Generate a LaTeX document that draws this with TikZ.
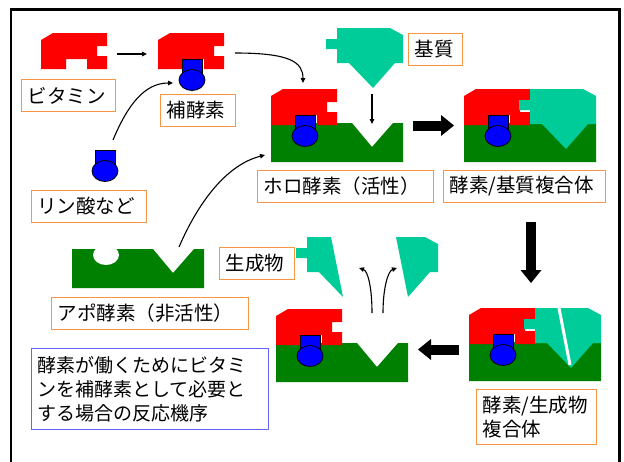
\documentclass[tikz,border=0pt]{standalone}
\usepackage{fontspec}
\setmainfont{Noto Sans CJK JP}
\usetikzlibrary{arrows.meta}

\definecolor{enzred}{RGB}{255,0,0}
\definecolor{enzgreen}{RGB}{0,128,0}
\definecolor{cofblue}{RGB}{0,0,255}
\definecolor{subteal}{RGB}{0,204,153}
\definecolor{lblorange}{RGB}{248,150,70}
\definecolor{noteblue}{RGB}{100,100,255}

\newcommand{\vitpart}{\fill[enzred] (0,7)--(12,0)--(66,0)--(66,13)--(56,13)--(56,23)--(66,23)--(66,36)--(46,36)--(46,26)--(25,26)--(25,36)--(0,36)--cycle;}
\newcommand{\greenpart}{\fill[enzgreen] (0,34)--(81,34)--(101,58)--(122,34)--(132,34)--(132,73)--(0,73)--cycle;}
\newcommand{\cofac}{\filldraw[fill=cofblue,line width=.8pt] (24,26) rectangle (44,46);
  \filldraw[fill=cofblue,line width=.8pt] (34,47) ellipse [x radius=13pt,y radius=10.5pt];}
\newcommand{\subshape}{\fill[subteal] (0,0)--(53,0)--(66,7)--(66,35)--(58,35)--(36,60)--(12,35)--(0,35)--(0,21)--(-11,21)--(-11,11)--(0,11)--cycle;}
\newcommand{\prodleft}{\fill[subteal] (-11,11)--(0,11)--(0,0)--(24,0)--(36,60)--(12,35)--(0,35)--(0,21)--(-11,21)--cycle;}
\newcommand{\prodright}{\fill[subteal] (24,0)--(53,0)--(66,7)--(66,35)--(58,35)--(36,60)--cycle;}

\tikzset{
  lbl/.style={draw=lblorange, line width=1pt, anchor=north west, inner xsep=6pt, inner ysep=2pt,
    minimum height=32pt, align=left, font=\fontsize{19.5}{24}\selectfont},
  note/.style={draw=noteblue, line width=1pt, anchor=north west, inner xsep=6pt, inner ysep=2pt,
    text width=225pt, minimum height=81pt, align=left, font=\fontsize{19}{24}\selectfont},
  thinarr/.style={line width=1.1pt, -{Triangle[length=5pt,width=4.5pt]}},
  bigarr/.style={line width=10pt, -{Triangle[length=13pt,width=21pt,line width=0pt]}}
}

\begin{document}
\begin{tikzpicture}[x=1pt,y=-1pt]
\useasboundingbox (0,0) rectangle (624,461);
\clip (0,0) rectangle (624,461);
\draw[line width=2.5pt] (11,9.5) rectangle (619.5,480);

\begin{scope}[shift={(41,33)}] \vitpart \end{scope}
\begin{scope}[shift={(158,33)}] \vitpart \cofac \end{scope}
\begin{scope}[shift={(71,124)}] \cofac \end{scope}
\begin{scope}[shift={(337,28)}] \subshape \end{scope}

\begin{scope}[shift={(271,89)}] \greenpart \vitpart \cofac \end{scope}
\begin{scope}[shift={(464,89)}]
  \greenpart \vitpart
  \begin{scope}[shift={(66,0)}] \subshape \end{scope}
  \cofac
\end{scope}
\begin{scope}[shift={(469,308)}]
  \greenpart \vitpart
  \begin{scope}[shift={(66,0)}] \subshape \end{scope}
  \draw[white,line width=3pt] (90,0)--(101,57);
  \cofac
\end{scope}
\begin{scope}[shift={(276,309)}] \greenpart \vitpart \cofac \end{scope}
\begin{scope}[shift={(307,237)}] \prodleft \end{scope}
\begin{scope}[shift={(372,237)}] \prodright \end{scope}
\begin{scope}[shift={(72,215)}]
  \greenpart
  \fill[white] (34,40) ellipse [x radius=13pt,y radius=10pt];
\end{scope}

\node[lbl,text width=82pt] (vitlbl) at (21,79) {ビタミン};
\node[lbl,text width=63pt] (coelbl) at (160,94) {補酵素};
\node[lbl,text width=103pt] (phoslbl) at (31,190) {リン酸など};
\node[lbl,text width=42pt] (sublbl) at (408,33) {基質};
\node[lbl,text width=164pt] (hololbl) at (257,170) {ホロ酵素（活性）};
\node[lbl,text width=150pt] (eslbl) at (443,170) {酵素/基質複合体};
\node[lbl,text width=63pt] (prodlbl) at (219,247) {生成物};
\node[lbl,text width=185pt] (apolbl) at (51,297) {アポ酵素（非活性）};
\node[lbl,text width=108pt,minimum height=55pt] (eplbl) at (476,389) {酵素/生成物\\複合体};
\node[note] (notelbl) at (31,348) {酵素が働くためにビタミ\\ンを補酵素として必要と\\する場合の反応機序};

\coordinate (vitout) at (117,54);
\coordinate (coein) at (147,54);
\coordinate (coeout) at (235,53);
\coordinate (holotop) at (303,83);
\coordinate (phosout) at (113,140);
\coordinate (coeleft) at (173,83);
\coordinate (apoout) at (179,247);
\coordinate (hololeft) at (265,155);
\coordinate (subout) at (372,94);
\coordinate (holovee) at (372,124);
\coordinate (relL) at (372,313);
\coordinate (relLend) at (359,268);
\coordinate (relR) at (383,313);
\coordinate (relRend) at (397,268);

\draw[thinarr] (vitout) -- (coein);
\draw[thinarr] (coeout) .. controls (290,53) and (303,62) .. (holotop);
\draw[thinarr] (phosout) .. controls (128,104) and (145,83) .. (coeleft);
\draw[thinarr] (apoout) .. controls (198,203) and (226,165) .. (hololeft);
\draw[thinarr] (subout) -- (holovee);
\draw[thinarr] (relL) .. controls (372,288) and (368,271) .. (relLend);
\draw[thinarr] (relR) .. controls (383,288) and (388,271) .. (relRend);

\coordinate (holoright) at (413,125.5);
\coordinate (esleft) at (454,125.5);
\coordinate (esbottom) at (531,222);
\coordinate (eptop) at (531,283);
\coordinate (epleft) at (459,349.5);
\coordinate (freeright) at (418,349.5);
\draw[bigarr] (holoright) -- (esleft);
\draw[bigarr] (esbottom) -- (eptop);
\draw[bigarr] (epleft) -- (freeright);
\end{tikzpicture}
\end{document}
